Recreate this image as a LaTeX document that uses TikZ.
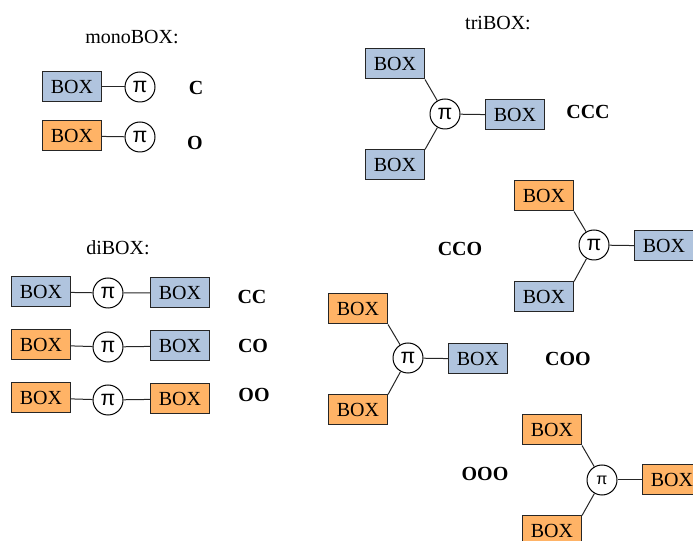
\documentclass[tikz,border=0pt]{standalone}
\usepackage{fontspec}
\setmainfont{Liberation Serif}
\newfontfamily\pifont{Liberation Sans}
\definecolor{cbox}{HTML}{B0C4DE}
\definecolor{obox}{HTML}{FFB366}
\begin{document}
\begin{tikzpicture}[x=0.75pt,y=-0.75pt,
  bx/.style={draw=black!85,line width=0.75pt,minimum width=44.25pt,minimum height=22.5pt,inner sep=0pt,font=\fontsize{15}{15}\selectfont},
  cb/.style={bx,fill=cbox},
  ob/.style={bx,fill=obox},
  pin/.style={draw=black,fill=white,circle,line width=0.75pt,minimum size=22.5pt,inner sep=0pt,font=\pifont\fontsize{16}{16}\selectfont},
  lab/.style={font=\fontsize{15}{15}\selectfont\bfseries},
  ttl/.style={font=\fontsize{15}{15}\selectfont},
  ln/.style={draw=black!85,line width=0.75pt}]
\useasboundingbox (0,0) rectangle (693,541);
\clip (0,0) rectangle (693,541);
% monoBOX
\node[ttl] (tmono) at (132,37) {monoBOX:};
\node[cb] (m1b) at (72,87) {BOX};
\node[pin] (m1p) at (140,87) {π};
\node[lab] (m1l) at (196,88) {C};
\draw[ln] (m1b) -- (m1p);
\node[ob] (m2b) at (72,136) {BOX};
\node[pin] (m2p) at (140,137) {π};
\node[lab] (m2l) at (195,143) {O};
\draw[ln] (m2b) -- (m2p);
% diBOX
\node[ttl] (tdi) at (118,248) {diBOX:};
\node[cb] (d1a) at (41,292) {BOX};
\node[pin] (d1p) at (108,293) {π};
\node[cb] (d1b) at (180,293) {BOX};
\node[lab] (d1l) at (252,297) {CC};
\draw[ln] (d1a) -- (d1p) -- (d1b);
\node[ob] (d2a) at (41,345) {BOX};
\node[pin] (d2p) at (108,347) {π};
\node[cb] (d2b) at (180,346) {BOX};
\node[lab] (d2l) at (253,346) {CO};
\draw[ln] (d2a) -- (d2p) -- (d2b);
\node[ob] (d3a) at (41,398) {BOX};
\node[pin] (d3p) at (108,400) {π};
\node[ob] (d3b) at (180,399) {BOX};
\node[lab] (d3l) at (254,395) {OO};
\draw[ln] (d3a) -- (d3p) -- (d3b);
% triBOX CCC
\node[ttl] (ttri) at (498,23) {triBOX:};
\node[cb] (t1a) at (395,64) {BOX};
\node[pin] (t1p) at (445,114) {π};
\node[cb] (t1b) at (515,115) {BOX};
\node[cb] (t1c) at (395,165) {BOX};
\node[lab] (t1l) at (588,112) {CCC};
\draw[ln] (t1a.south east) -- (t1p);
\draw[ln] (t1c.north east) -- (t1p);
\draw[ln] (t1p) -- (t1b);
% CCO
\node[ob] (t2a) at (544,196) {BOX};
\node[pin] (t2p) at (594,245) {π};
\node[cb] (t2b) at (664,246) {BOX};
\node[cb] (t2c) at (544,297) {BOX};
\node[lab] (t2l) at (460,249) {CCO};
\draw[ln] (t2a.south east) -- (t2p);
\draw[ln] (t2c.north east) -- (t2p);
\draw[ln] (t2p) -- (t2b);
% COO
\node[ob] (t3a) at (358,309) {BOX};
\node[pin] (t3p) at (408,358) {π};
\node[cb] (t3b) at (478,359) {BOX};
\node[ob] (t3c) at (358,410) {BOX};
\node[lab] (t3l) at (568,359) {COO};
\draw[ln] (t3a.south east) -- (t3p);
\draw[ln] (t3c.north east) -- (t3p);
\draw[ln] (t3p) -- (t3b);
% OOO
\node[ob] (t4a) at (552,430) {BOX};
\node[pin,font=\pifont\fontsize{12}{12}\selectfont] (t4p) at (602,480) {π};
\node[ob] (t4b) at (672,480) {BOX};
\node[ob] (t4c) at (552,531) {BOX};
\node[lab] (t4l) at (485,474) {OOO};
\draw[ln] (t4a.south east) -- (t4p);
\draw[ln] (t4c.north east) -- (t4p);
\draw[ln] (t4p) -- (t4b);
\end{tikzpicture}
\end{document}
